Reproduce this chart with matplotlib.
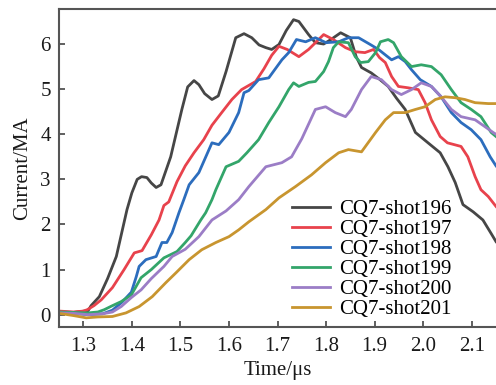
import matplotlib.pyplot as plt
import numpy as np

plt.rcParams['font.family'] = ['Liberation Serif', 'DejaVu Serif']
plt.rcParams['mathtext.fontset'] = 'stix'

# shot current traces, time in us, current in MA
t196 = [1.25, 1.28, 1.31, 1.316, 1.333, 1.35, 1.368, 1.39, 1.40, 1.411, 1.42, 1.431, 1.44, 1.45, 1.46, 1.48,
        1.503, 1.515, 1.528, 1.538, 1.55, 1.565, 1.578, 1.594, 1.614, 1.631, 1.647, 1.662, 1.676, 1.688, 1.703,
        1.718, 1.733, 1.744, 1.764, 1.778, 1.795, 1.81, 1.83, 1.85, 1.862, 1.873, 1.893, 1.91, 1.928, 1.945,
        1.963, 1.984, 2.01, 2.035, 2.051, 2.066, 2.082, 2.103, 2.123, 2.14, 2.15]
i196 = [0.06, 0.05, 0.09, 0.2, 0.4, 0.8, 1.29, 2.33, 2.7, 3.0, 3.06, 3.04, 2.92, 2.82, 2.88, 3.5,
        4.55, 5.05, 5.19, 5.1, 4.9, 4.77, 4.85, 5.39, 6.14, 6.23, 6.14, 5.98, 5.92, 5.88, 5.99,
        6.3, 6.54, 6.5, 6.21, 6.03, 6.0, 6.1, 6.25, 6.14, 5.72, 5.48, 5.36, 5.22, 5.06, 4.8,
        4.55, 4.04, 3.81, 3.59, 3.28, 2.93, 2.44, 2.28, 2.1, 1.8, 1.62]

t197 = [1.25, 1.28, 1.30, 1.308, 1.322, 1.337, 1.36, 1.384, 1.405, 1.421, 1.44, 1.456, 1.466, 1.476, 1.493,
        1.51, 1.528, 1.548, 1.565, 1.585, 1.606, 1.626, 1.655, 1.672, 1.688, 1.703, 1.72, 1.744, 1.764, 1.78,
        1.795, 1.815, 1.84, 1.86, 1.88, 1.898, 1.91, 1.922, 1.935, 1.949, 1.969, 1.99, 2.004, 2.017, 2.035,
        2.05, 2.078, 2.092, 2.107, 2.119, 2.134, 2.15]
i197 = [0.08, 0.06, 0.08, 0.11, 0.2, 0.33, 0.6, 1.0, 1.37, 1.42, 1.77, 2.1, 2.42, 2.5, 2.95,
        3.3, 3.59, 3.88, 4.2, 4.48, 4.77, 4.99, 5.17, 5.45, 5.75, 5.95, 5.88, 5.72, 5.88, 6.05,
        6.21, 6.1, 5.92, 5.83, 5.81, 5.88, 5.7, 5.59, 5.28, 5.06, 5.03, 4.99, 4.7, 4.32, 3.95,
        3.81, 3.73, 3.5, 3.06, 2.77, 2.62, 2.4]

t198 = [1.25, 1.28, 1.31, 1.34, 1.36, 1.38, 1.399, 1.409, 1.415, 1.429, 1.45, 1.462, 1.472, 1.483, 1.497,
        1.507, 1.518, 1.538, 1.565, 1.579, 1.6, 1.62, 1.631, 1.641, 1.661, 1.682, 1.709, 1.723, 1.739, 1.758,
        1.778, 1.80, 1.826, 1.846, 1.867, 1.891, 1.908, 1.922, 1.935, 1.949, 1.963, 1.976, 1.994, 2.017,
        2.037, 2.058, 2.078, 2.099, 2.119, 2.138, 2.15]
i198 = [0.05, 0.03, 0.0, 0.02, 0.1, 0.28, 0.5, 0.84, 1.07, 1.22, 1.29, 1.6, 1.6, 1.82, 2.26,
        2.55, 2.88, 3.15, 3.81, 3.77, 4.04, 4.48, 4.92, 4.97, 5.21, 5.25, 5.65, 5.81, 6.1, 6.05,
        6.14, 6.03, 6.05, 6.14, 6.14, 5.99, 5.88, 5.76, 5.65, 5.72, 5.61, 5.43, 5.21, 5.06,
        4.83, 4.48, 4.26, 4.1, 3.88, 3.5, 3.3]

t199 = [1.25, 1.28, 1.31, 1.33, 1.343, 1.36, 1.378, 1.399, 1.419, 1.44, 1.466, 1.493, 1.51, 1.522, 1.542,
        1.552, 1.565, 1.573, 1.594, 1.62, 1.637, 1.661, 1.682, 1.703, 1.723, 1.733, 1.744, 1.764, 1.778,
        1.795, 1.805, 1.815, 1.826, 1.846, 1.86, 1.871, 1.887, 1.902, 1.912, 1.928, 1.939, 1.955, 1.976,
        1.996, 2.017, 2.037, 2.058, 2.078, 2.099, 2.119, 2.14, 2.15]
i199 = [0.06, 0.05, 0.04, 0.06, 0.11, 0.2, 0.29, 0.44, 0.82, 1.0, 1.26, 1.4, 1.6, 1.75, 2.1,
        2.26, 2.55, 2.77, 3.28, 3.4, 3.59, 3.88, 4.26, 4.61, 4.99, 5.14, 5.06, 5.15, 5.17,
        5.39, 5.61, 5.92, 6.05, 6.03, 5.72, 5.59, 5.61, 5.81, 6.05, 6.1, 6.03, 5.72, 5.5,
        5.54, 5.5, 5.32, 4.99, 4.7, 4.55, 4.39, 4.04, 3.95]

t200 = [1.25, 1.28, 1.31, 1.34, 1.36, 1.378, 1.399, 1.419, 1.44, 1.466, 1.483, 1.51, 1.538, 1.565, 1.594,
        1.62, 1.641, 1.676, 1.709, 1.729, 1.75, 1.778, 1.799, 1.819, 1.84, 1.852, 1.873, 1.893, 1.914,
        1.935, 1.955, 1.976, 1.996, 2.017, 2.037, 2.058, 2.078, 2.107, 2.127, 2.144, 2.15]
i200 = [0.04, 0.03, 0.0, 0.02, 0.06, 0.18, 0.38, 0.55, 0.8, 1.07, 1.29, 1.45, 1.73, 2.1, 2.3,
        2.55, 2.84, 3.28, 3.37, 3.5, 3.9, 4.55, 4.61, 4.48, 4.39, 4.55, 4.99, 5.28, 5.21,
        4.99, 4.88, 4.99, 5.14, 5.06, 4.83, 4.55, 4.39, 4.32, 4.17, 4.04, 4.0]

t201 = [1.25, 1.28, 1.306, 1.33, 1.36, 1.388, 1.415, 1.442, 1.47, 1.491, 1.518, 1.544, 1.573, 1.6, 1.62,
        1.641, 1.676, 1.703, 1.737, 1.77, 1.799, 1.826, 1.846, 1.873, 1.902, 1.922, 1.939, 1.963, 1.984,
        2.004, 2.025, 2.045, 2.066, 2.086, 2.107, 2.134, 2.15]
i201 = [0.03, -0.02, -0.07, -0.05, -0.04, 0.04, 0.18, 0.4, 0.71, 0.93, 1.22, 1.44, 1.6, 1.73, 1.88,
        2.06, 2.33, 2.59, 2.84, 3.1, 3.37, 3.59, 3.66, 3.61, 4.04, 4.32, 4.48, 4.48, 4.55,
        4.61, 4.77, 4.83, 4.81, 4.77, 4.70, 4.68, 4.68]

labels = ['CQ7-shot196', 'CQ7-shot197', 'CQ7-shot198', 'CQ7-shot199', 'CQ7-shot200', 'CQ7-shot201']
colors = ['#464646', '#e8424c', '#2c6dbd', '#33a56a', '#9b7dc6', '#c8952f']

fig = plt.figure(figsize=(4.96, 3.85), dpi=100)
ax = fig.add_axes([0.119, 0.151, 0.881, 0.826])

series = [(t196, i196), (t197, i197), (t198, i198), (t199, i199), (t200, i200), (t201, i201)]
for (t, i), lab, c in zip(series, labels, colors):
    ax.plot(t, i, color=c, lw=2, label=lab)

ax.set_xlim(1.25, 2.15)
ax.set_ylim(-0.27, 6.78)
ax.set_xticks(np.arange(1.3, 2.15, 0.1))
ax.set_xticklabels(['1.3', '1.4', '1.5', '1.6', '1.7', '1.8', '1.9', '2.0', '2.1'])
ax.set_yticks(range(0, 7))
ax.tick_params(direction='in', length=4, width=1.2, color='#444444', labelsize=15, labelcolor='#1a1a1a')
ax.tick_params(axis='x', pad=7)
ax.tick_params(axis='y', pad=6)
for s in ['left', 'bottom', 'top']:
    ax.spines[s].set_color('#555555')
    ax.spines[s].set_linewidth(1.5)
ax.spines['right'].set_visible(False)

ax.set_xlabel('Time/μs', fontsize=15, color='#1a1a1a', labelpad=4)
ax.set_ylabel('Current/MA', fontsize=15, color='#1a1a1a', labelpad=6)

ax.legend(loc='lower left', bbox_to_anchor=(0.533, 0.025), frameon=False, fontsize=15,
          handlelength=1.85, handletextpad=0.4, labelspacing=0.02, borderpad=0, borderaxespad=0)

fig.savefig('out.png', dpi=100)
